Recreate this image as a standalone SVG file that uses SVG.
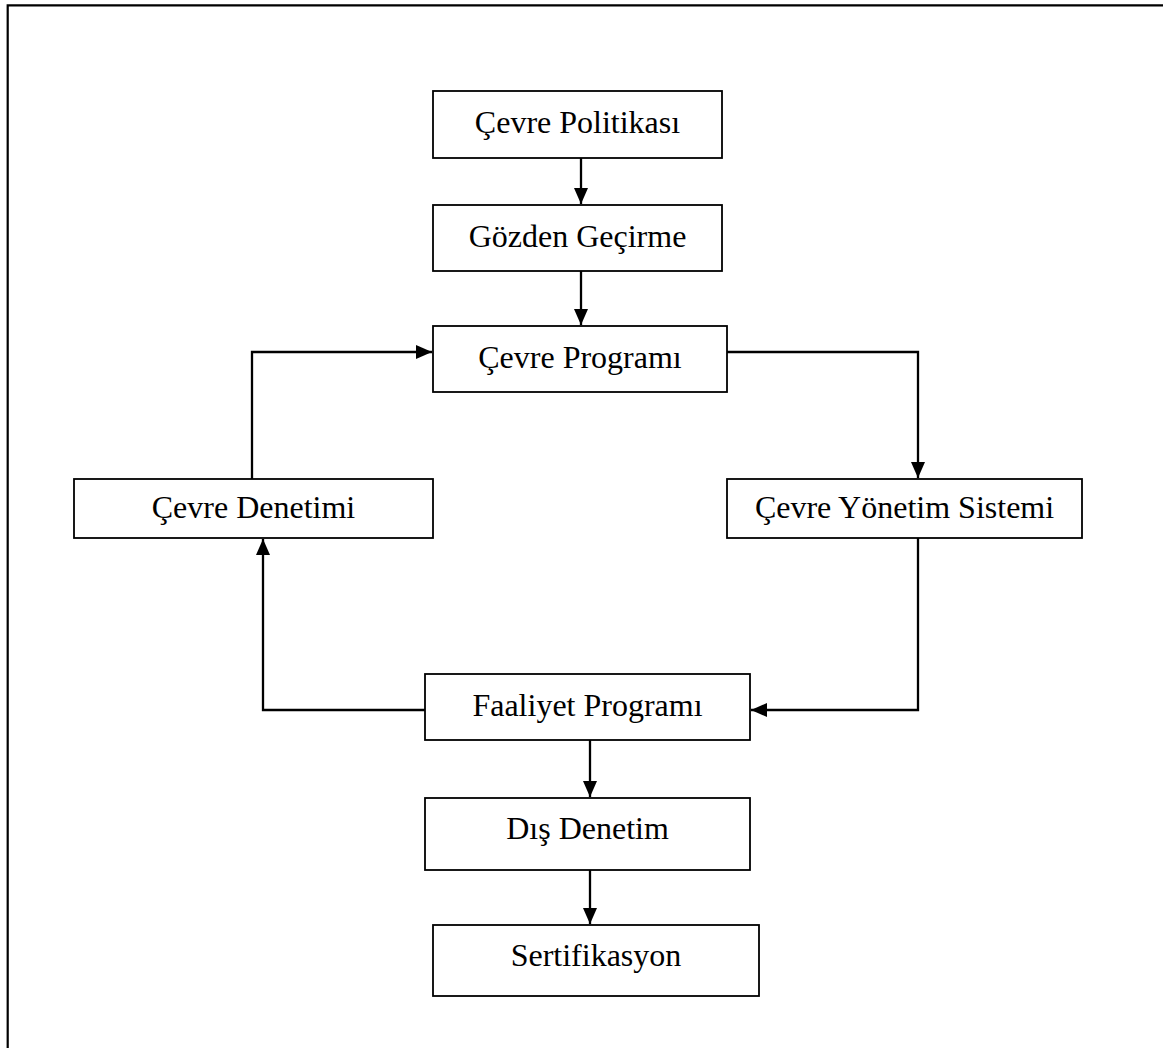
<svg xmlns="http://www.w3.org/2000/svg" width="1163" height="1048" viewBox="0 0 1163 1048">
<style>
.box{fill:#fff;stroke:#000;stroke-width:1.8}
.lbl{font-family:"Liberation Serif","Times New Roman",serif;font-size:32px;fill:#000;text-anchor:middle}
.con{fill:none;stroke:#000;stroke-width:2.3}
</style>
<defs>
<marker id="ah" markerUnits="userSpaceOnUse" markerWidth="18" markerHeight="15" refX="16" refY="7" orient="auto">
<path d="M0,0 L16,7 L0,14 z" fill="#000"/>
</marker>
</defs>
<rect width="1163" height="1048" fill="#fff"/>
<path d="M7.7,1048 V5.3 H1163" fill="none" stroke="#000" stroke-width="2.2"/>
<g id="connectors">
<path class="con" d="M581,158 V204" marker-end="url(#ah)"/>
<path class="con" d="M581,271 V325" marker-end="url(#ah)"/>
<path class="con" d="M727,352 H918 V478" marker-end="url(#ah)"/>
<path class="con" d="M252,479 V352 H432" marker-end="url(#ah)"/>
<path class="con" d="M918,538 V710 H751" marker-end="url(#ah)"/>
<path class="con" d="M425,710 H263 V539" marker-end="url(#ah)"/>
<path class="con" d="M590,740 V797" marker-end="url(#ah)"/>
<path class="con" d="M590,870 V924" marker-end="url(#ah)"/>
</g>
<g id="n1"><rect class="box" x="433" y="91" width="289" height="67"/><text class="lbl" x="577.5" y="133">Çevre Politikası</text></g>
<g id="n2"><rect class="box" x="433" y="205" width="289" height="66"/><text class="lbl" x="577.5" y="247">Gözden Geçirme</text></g>
<g id="n3"><rect class="box" x="433" y="326" width="294" height="66"/><text class="lbl" x="580" y="368">Çevre Programı</text></g>
<g id="n4"><rect class="box" x="74" y="479" width="359" height="59"/><text class="lbl" x="253.5" y="518">Çevre Denetimi</text></g>
<g id="n5"><rect class="box" x="727" y="479" width="355" height="59"/><text class="lbl" x="904.5" y="518">Çevre Yönetim Sistemi</text></g>
<g id="n6"><rect class="box" x="425" y="674" width="325" height="66"/><text class="lbl" x="587.5" y="716">Faaliyet Programı</text></g>
<g id="n7"><rect class="box" x="425" y="798" width="325" height="72"/><text class="lbl" x="587.5" y="839">Dış Denetim</text></g>
<g id="n8"><rect class="box" x="433" y="925" width="326" height="71"/><text class="lbl" x="596" y="966">Sertifikasyon</text></g>
</svg>
